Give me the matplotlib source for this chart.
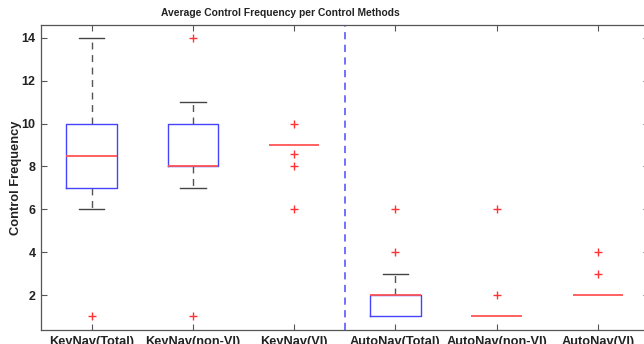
import matplotlib
matplotlib.use("Agg")
import matplotlib.pyplot as plt

categories = ["KeyNav(Total)", "KeyNav(non-VI)", "KeyNav(VI)",
              "AutoNav(Total)", "AutoNav(non-VI)", "AutoNav(VI)"]
q1 = [7, 8, 9, 1, 1, 2]
med = [8.5, 8, 9, 2, 1, 2]
q3 = [10, 10, 9, 2, 1, 2]
whislo = [6, 7, 9, 1, 1, 2]
whishi = [14, 11, 9, 3, 1, 2]
fliers = [[1], [14, 1], [10, 8.6, 8, 6], [6, 4], [6, 2], [4, 3]]

title = "Average Control Frequency per Control Methods"
ylabel = "Control Frequency"
yticks = [2, 4, 6, 8, 10, 12, 14]

BOX_C = '#4444ff'
MED_C = '#ff5555'

plt.rcParams['font.family'] = ['Liberation Sans', 'DejaVu Sans']
fig = plt.figure(figsize=(6.44, 3.44), dpi=100)
ax = fig.add_axes([41/644, 1-330/344, (648.5-41)/644, (330-25)/344])

stats = []
for i, c in enumerate(categories):
    stats.append(dict(label=c, q1=q1[i], med=med[i], q3=q3[i],
                      whislo=whislo[i], whishi=whishi[i], fliers=fliers[i]))

positions = list(range(1, len(categories) + 1))
res = ax.bxp(stats, positions=positions, widths=0.5, capwidths=0.25,
             boxprops=dict(color=BOX_C, linewidth=1.0, zorder=3),
             medianprops=dict(color=MED_C, linewidth=1.3, zorder=4),
             whiskerprops=dict(color='#555555', linestyle=(0, (5, 4)), linewidth=1.0, zorder=2),
             capprops=dict(color='#444444', linewidth=1.0, zorder=2),
             flierprops=dict(marker='+', markeredgecolor='#ff3333', markersize=6,
                             markeredgewidth=1.0, linestyle='none'))

# degenerate (zero-height) boxes collapse onto the median line
for i, b in enumerate(res['boxes']):
    if q1[i] == q3[i]:
        b.set_visible(False)
    for k in (2 * i, 2 * i + 1):
        w = res['whiskers'][k]
        c = res['caps'][k]
        if whislo[i] == q1[i] and k == 2 * i or whishi[i] == q3[i] and k == 2 * i + 1:
            w.set_visible(False)
            c.set_visible(False)

ax.axvline(3.5, color='#6666ff', linestyle=(0, (4, 3)), linewidth=1.3)

ax.set_xlim(0.5, 6.5)
ax.set_ylim(0.37, 14.6)
ax.set_yticks(yticks)
ax.set_xticks(positions)
ax.set_xticklabels(categories, fontsize=9.2, fontweight='bold', color='#222222')
for t in ax.get_yticklabels():
    t.set_fontsize(9)
    t.set_fontweight('bold')
    t.set_color('#222222')
ax.tick_params(direction='in', top=True, right=True, length=4.5, width=0.8,
               color='#555555', pad=4)
ax.tick_params(axis='x', pad=4)
for s in ax.spines.values():
    s.set_color('#555555')
    s.set_linewidth(0.9)
ax.set_title(title, fontsize=7.4, fontweight='bold', color='#222222', pad=6.5,
             x=(280-41)/607.5)
ax.set_ylabel(ylabel, fontsize=9.3, fontweight='bold', color='#222222', labelpad=-0.5)

fig.savefig("out.png", dpi=100)
